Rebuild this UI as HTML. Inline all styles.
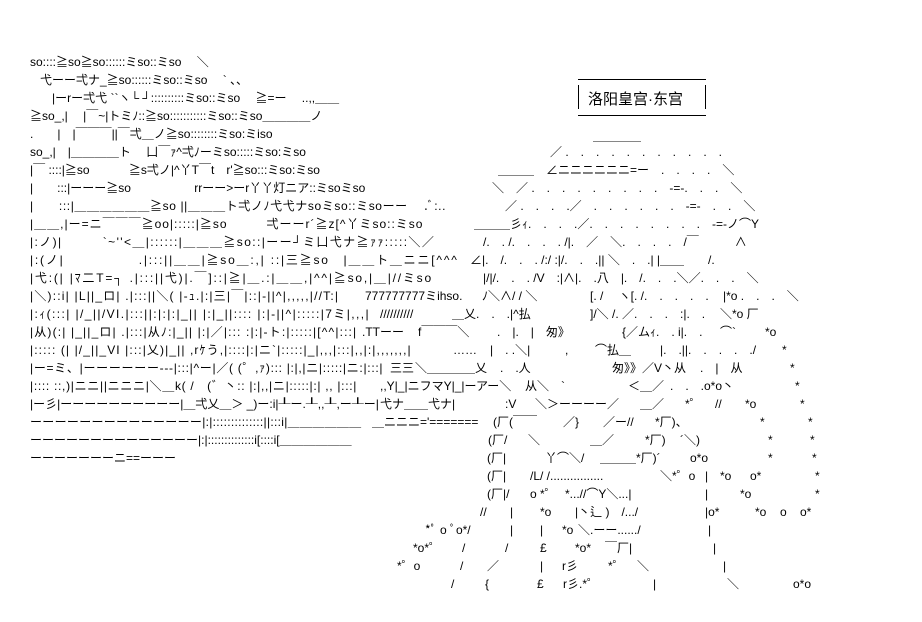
<!DOCTYPE html>
<html><head><meta charset="utf-8">
<style>
html,body{margin:0;padding:0;background:#fff;}
body{width:922px;height:622px;position:relative;overflow:hidden;font-family:"Liberation Sans","Noto Sans CJK JP",sans-serif;font-size:12px;color:#000;}
.l{position:absolute;white-space:pre;line-height:14px;}
.box{position:absolute;left:578px;top:79px;width:128px;height:35px;border-top:1px solid #000;border-bottom:1px solid #000;}
.box:before,.box:after{content:"";position:absolute;top:5px;height:24px;border-left:1px solid #000;}
.box:before{left:0}.box:after{right:0}
.box span{position:absolute;left:10px;top:8px;font-size:15px;font-family:"Liberation Sans","Noto Sans CJK SC",sans-serif;white-space:nowrap;}
</style></head><body>
<div class="box"><span>洛阳皇宫·东宫</span></div>

<div class="l" style="left:30px;top:55px">so::::≧so≧so::::::ミso::ミso　 ＼</div>
<div class="l" style="left:40px;top:73px">弋ーー弌ナ_≧so::::::ミso::ミso　 ` 、、</div>
<div class="l" style="left:52px;top:91px">|ーrー弌弋 ``ヽ└ ┘::::::::::ミso::ミso　 ≧=ー　 ..,,＿＿</div>
<div class="l" style="left:30px;top:109px">≧so_,|　 |￣~|トミﾉ::≧so:::::::::::ミso::ミso＿＿＿＿ノ</div>
<div class="l" style="left:30px;top:127px">.　　|　|￣￣￣||￣弌＿ノ≧so::::::::ミso:ミiso</div>
<div class="l" style="left:30px;top:145px">so_,|　|＿＿＿＿ト　 凵￣ｧ^弌ﾉーミso:::::ミso:ミso</div>
<div class="l" style="left:30px;top:163px">|￣ ::::|≧so　　　 ≧s弌ノ|^丫T￣t　r'≧so:::ミso:ミso</div>
<div class="l" style="left:30px;top:181px">|　　:::|ーーー≧so　　　　　 rrーー>ーr丫丫灯ニア::ミsoミso</div>
<div class="l" style="left:30px;top:199px;letter-spacing:0.6px">|　　:::|＿＿＿＿＿＿≧so ||＿＿＿ト弌ノﾉ弋弋ナsoミso::ミsoーー　 .ﾞ:..</div>
<div class="l" style="left:30px;top:217px;letter-spacing:1px">|＿＿,|ー=ニ￣￣￣≧oo|:::::|≧so　　　弌ーーr´≧z[^丫ミso::ミso</div>
<div class="l" style="left:30px;top:235px;letter-spacing:1.4px">|:ノ)|　　　`~''<＿|::::::|＿＿＿≧so::|ーー┘ミ凵弋ナ≧ｧｧ:::::＼／</div>
<div class="l" style="left:30px;top:253px;letter-spacing:1.8px">|:(ノ|　　　　　 .|:::||＿＿|≧so＿:,| ::|三≧so　|＿＿ト＿ニニ[^^^</div>
<div class="l" style="left:30px;top:271px;letter-spacing:1.8px">|弋:(| |ﾏ二T=┐ .|:::||弋)|.￣]::|≧|＿.:|＿＿,|^^|≧so,|＿|//ミso</div>
<div class="l" style="left:30px;top:289px;letter-spacing:1.2px">|＼)::i| |L||_ロ| .|:::||＼( |-ｭ.|:|三|￣|::|-||^|,,,,,|//T:|</div>
<div class="l" style="left:30px;top:307px;letter-spacing:1.4px">|:ｨ(:::| |/_||/VI.|:::||:|:|:|_|| |:|_||:::: |:|-||^|:::::|7ミ|,,,|</div>
<div class="l" style="left:30px;top:325px;letter-spacing:1.15px">|从)(:| |_||_ロ| .|:::|从ﾉ:|_|| |:|／|::: :|:|-ト:|:::::|[^^|:::|</div>
<div class="l" style="left:30px;top:343px;letter-spacing:1.1px">|::::: (| |/_||_VI |:::|乂)|_|| ,rｹう,|::::|:|ニ`|:::::|_|,,,|:::|,,|:|,,,,,,,|</div>
<div class="l" style="left:30px;top:361px;letter-spacing:0.7px">|ー=ミ、|ーーーーーー---|:::|^ー|／( (゜,ｧ)::: |:|,|ニ|:::::|ニ:|:::|</div>
<div class="l" style="left:30px;top:379px;letter-spacing:0.7px">|:::: ::,)|ニニ||ニニニ|＼＿k( /　(゛丶:: |:|,,|ニ|:::::|:| ,, |:::|</div>
<div class="l" style="left:30px;top:397px">|ー彡|ーーーーーーーーーー|＿弌乂＿＞ _)ー:i|┸ー.┸,,┸,ー┸ー|</div>
<div class="l" style="left:30px;top:415px;letter-spacing:0.3px">ーーーーーーーーーーーーーー|:|::::::::::::::||:::i|＿＿＿＿＿＿</div>
<div class="l" style="left:30px;top:433px">ーーーーーーーーーーーーーー|:|::::::::::::::i[::::i[＿＿＿＿＿＿</div>
<div class="l" style="left:30px;top:451px">ーーーーーーーニ==ーーー</div>

<div class="l" style="left:593px;top:129px">＿＿＿＿</div>
<div class="l" style="left:550px;top:145px">／ .　.　.　.　.　.　.　.　.　.　.</div>
<div class="l" style="left:498px;top:163px">＿＿＿　∠ニニニニニニ=ー　.　.　.　.　＼</div>
<div class="l" style="left:492px;top:181px">＼　／ .　.　.　.　.　.　.　.　.　-=-.　.　.　＼</div>
<div class="l" style="left:505px;top:199px">／ .　.　.　.／　.　.　.　.　.　.　-=-　.　.　＼</div>
<div class="l" style="left:474px;top:217px">＿＿＿彡ｨ.　.　.　.／.　.　.　.　.　.　.　.　-=-ノ⌒Y</div>
<div class="l" style="left:483px;top:235px">/.　. /.　.　.　. /|.　／　＼.　.　.　.　/￣　　　∧</div>
<div class="l" style="left:470px;top:253px">∠|.　/.　.　. /:/ :|/.　.　.|| ＼　.　.| |＿＿　　/.</div>
<div class="l" style="left:483px;top:271px">|/|/.　.　. /V　:|∧|.　.八　|.　/.　.　.＼／.　.　.　＼</div>

<div class="l" style="left:365px;top:289px">777777777ミihso.</div>
<div class="l" style="left:482px;top:289px">ﾉ＼∧/ / ＼</div>
<div class="l" style="left:590px;top:289px">[. /　 ヽ[. /.　.　.　.　.</div>
<div class="l" style="left:723px;top:289px">|*o .　.　.　＼</div>
<div class="l" style="left:380px;top:307px">//////////</div>
<div class="l" style="left:452px;top:307px">＿乂.　.　.|^払</div>
<div class="l" style="left:590px;top:307px">]/＼ /. ／.　.　.　:|.　.</div>
<div class="l" style="left:720px;top:307px">＼*o 厂</div>
<div class="l" style="left:362px;top:325px">.TTーー</div>
<div class="l" style="left:418px;top:325px">f￣￣￣＼</div>
<div class="l" style="left:497px;top:325px">.　|.　|　匆》</div>
<div class="l" style="left:622px;top:325px">{／ムｨ.　. i|.　.</div>
<div class="l" style="left:720px;top:325px">⌒`</div>
<div class="l" style="left:765px;top:325px">*o</div>
<div class="l" style="left:453px;top:343px">……</div>
<div class="l" style="left:490px;top:343px">|　. .＼|</div>
<div class="l" style="left:565px;top:343px">,</div>
<div class="l" style="left:595px;top:343px">⌒払＿</div>
<div class="l" style="left:660px;top:343px">|.　.||.　.　.　.　./</div>
<div class="l" style="left:782px;top:343px">*</div>
<div class="l" style="left:390px;top:361px">三三</div>
<div class="l" style="left:415px;top:361px">＼＿＿＿＿乂</div>
<div class="l" style="left:500px;top:361px">.　.人</div>
<div class="l" style="left:612px;top:361px">匆》》／V丶从</div>
<div class="l" style="left:700px;top:361px">.　|　从</div>
<div class="l" style="left:790px;top:361px">*</div>
<div class="l" style="left:380px;top:379px">,,Y|_|ニフマY|_|ーアー＼</div>
<div class="l" style="left:525px;top:379px">从＼　`</div>
<div class="l" style="left:628px;top:379px">＜＿／</div>
<div class="l" style="left:670px;top:379px">.　.　.o*o丶</div>
<div class="l" style="left:795px;top:379px">*</div>
<div class="l" style="left:380px;top:397px">弋ナ＿＿弋ナ|</div>
<div class="l" style="left:505px;top:397px">:V</div>
<div class="l" style="left:535px;top:397px">＼＞ーーーー／</div>
<div class="l" style="left:640px;top:397px">＿／</div>
<div class="l" style="left:685px;top:397px">*゜</div>
<div class="l" style="left:715px;top:397px">//</div>
<div class="l" style="left:745px;top:397px">*o</div>
<div class="l" style="left:800px;top:397px">*</div>
<div class="l" style="left:372px;top:415px">＿ニニニ='=======</div>
<div class="l" style="left:493px;top:415px">(厂(￣￣</div>
<div class="l" style="left:563px;top:415px">／}</div>
<div class="l" style="left:603px;top:415px">／ー//</div>
<div class="l" style="left:655px;top:415px">*厂)、</div>
<div class="l" style="left:760px;top:415px">*</div>
<div class="l" style="left:808px;top:415px">*</div>
<div class="l" style="left:488px;top:433px">(厂/</div>
<div class="l" style="left:528px;top:433px">＼</div>
<div class="l" style="left:590px;top:433px">＿／</div>
<div class="l" style="left:645px;top:433px">*厂)</div>
<div class="l" style="left:680px;top:433px">´＼)</div>
<div class="l" style="left:768px;top:433px">*</div>
<div class="l" style="left:810px;top:433px">*</div>
<div class="l" style="left:487px;top:451px">(厂|</div>
<div class="l" style="left:545px;top:451px">丫⌒＼/</div>
<div class="l" style="left:600px;top:451px">＿＿＿*厂)´</div>
<div class="l" style="left:690px;top:451px">o*o</div>
<div class="l" style="left:768px;top:451px">*</div>
<div class="l" style="left:812px;top:451px">*</div>
<div class="l" style="left:487px;top:469px">(厂|</div>
<div class="l" style="left:530px;top:469px">/L/ /................</div>
<div class="l" style="left:660px;top:469px">＼*゜o</div>
<div class="l" style="left:705px;top:469px">|</div>
<div class="l" style="left:720px;top:469px">*o</div>
<div class="l" style="left:750px;top:469px">o*</div>
<div class="l" style="left:815px;top:469px">*</div>
<div class="l" style="left:487px;top:487px">(厂|/</div>
<div class="l" style="left:530px;top:487px">o *゜</div>
<div class="l" style="left:565px;top:487px">*...//⌒Y＼...|</div>
<div class="l" style="left:705px;top:487px">|</div>
<div class="l" style="left:740px;top:487px">*o</div>
<div class="l" style="left:815px;top:487px">*</div>
<div class="l" style="left:480px;top:505px">//</div>
<div class="l" style="left:510px;top:505px">|</div>
<div class="l" style="left:540px;top:505px">*o</div>
<div class="l" style="left:575px;top:505px">|丶辶 )　/.../</div>
<div class="l" style="left:705px;top:505px">|o*</div>
<div class="l" style="left:755px;top:505px">*o</div>
<div class="l" style="left:780px;top:505px">o</div>
<div class="l" style="left:800px;top:505px">o*</div>
<div class="l" style="left:425px;top:523px">*ﾟ o ﾟo*/</div>
<div class="l" style="left:510px;top:523px">|</div>
<div class="l" style="left:540px;top:523px">|</div>
<div class="l" style="left:562px;top:523px">*o</div>
<div class="l" style="left:578px;top:523px">＼.ーー....../</div>
<div class="l" style="left:708px;top:523px">|</div>
<div class="l" style="left:413px;top:541px">*o*゜</div>
<div class="l" style="left:462px;top:541px">/</div>
<div class="l" style="left:505px;top:541px">/</div>
<div class="l" style="left:540px;top:541px">£</div>
<div class="l" style="left:575px;top:541px">*o*</div>
<div class="l" style="left:605px;top:541px">￣厂|</div>
<div class="l" style="left:713px;top:541px">|</div>
<div class="l" style="left:397px;top:559px">*゜o</div>
<div class="l" style="left:460px;top:559px">/</div>
<div class="l" style="left:487px;top:559px">／</div>
<div class="l" style="left:540px;top:559px">|</div>
<div class="l" style="left:562px;top:559px">r彡</div>
<div class="l" style="left:608px;top:559px">*゜</div>
<div class="l" style="left:637px;top:559px">＼</div>
<div class="l" style="left:723px;top:559px">|</div>
<div class="l" style="left:451px;top:577px">/</div>
<div class="l" style="left:485px;top:577px">{</div>
<div class="l" style="left:537px;top:577px">£</div>
<div class="l" style="left:563px;top:577px">r彡.*゜</div>
<div class="l" style="left:653px;top:577px">|</div>
<div class="l" style="left:727px;top:577px">＼</div>
<div class="l" style="left:793px;top:577px">o*o</div>
</body></html>
